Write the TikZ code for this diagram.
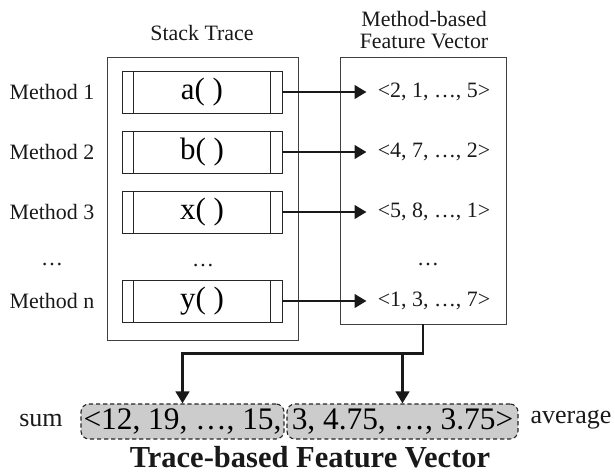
\documentclass[tikz,border=0pt]{standalone}
\usepackage{fontspec}
\setmainfont{Liberation Serif}
\usetikzlibrary{arrows.meta,calc}

\begin{document}
\begin{tikzpicture}[x=0.025cm, y=-0.025cm,
    methbox/.style={draw=black!85, line width=0.6pt, minimum width=113.8pt, minimum height=29.9pt, inner sep=0pt, font=\fontsize{22}{24}\selectfont},
    vecbox/.style={draw=black!85, line width=0.8pt, dash pattern=on 3pt off 2pt, rounded corners=5.7pt, fill=black!20, minimum height=24.9pt, inner sep=0pt, font=\fontsize{22.3}{24}\selectfont},
    arr/.style={line width=2.1pt, black!90, -{Triangle[length=8.5pt, width=9.5pt]}},
    small/.style={font=\fontsize{15.6}{18}\selectfont, text=black!90}]
    \useasboundingbox (0,0) rectangle (615,473);

    % stack trace and method-based vectors
    \node[small] (sttitle) at (202,33) {Stack Trace};
    \node[small, align=center] (fvtitle) at (424,30) {Method-based\\[-2pt]Feature Vector};
    \node[draw=black!75, line width=0.6pt, minimum width=135.9pt, minimum height=201.3pt, inner sep=0pt] (stack) at (202.5,198.5) {};
    \node[draw=black!75, line width=0.6pt, minimum width=118.1pt, minimum height=189.9pt, inner sep=0pt] (fvec) at (423,190.5) {};

    \foreach \i/\f/\y/\v in {1/a/92/{<2, 1, …, 5>}, 2/b/152/{<4, 7, …, 2>}, 3/x/212/{<5, 8, …, 1>}, n/y/301/{<1, 3, …, 7>}} {
        \node[small] (l\i) at (52,\y) {Method \i};
        \node[methbox] (m\i) at (202,\y) {\f( )};
        \draw[black!85, line width=0.6pt] ($(m\i.north west)+(12,0)$) -- ($(m\i.south west)+(12,0)$);
        \draw[black!85, line width=0.6pt] ($(m\i.north east)+(-12,0)$) -- ($(m\i.south east)+(-12,0)$);
        \node[small, inner sep=7.8pt] (v\i) at (434,\y) {\v};
        \draw[arr] (m\i.east) -- (v\i.west);
    }
    \node[small] (ldots) at (52,265) {…};
    \node[small] (mdots) at (203,266) {…};
    \node[small] (vdots) at (428,265) {…};

    % trace-based vector
    \node[vecbox, minimum width=144.4pt] (sum) at (182.5,421.5) {<12, 19, …, 15,};
    \node[vecbox, minimum width=164.3pt] (avg) at (402.5,421.5) {3, 4.75, …, 3.75>};
    \node[font=\fontsize{18.5}{20}\selectfont, text=black!90] (sumlbl) at (41,420) {sum};
    \node[font=\fontsize{18.5}{20}\selectfont, text=black!90] (avglbl) at (571,420) {average};
    \node[font=\fontsize{21.7}{24}\selectfont\bfseries, text=black!90] (title) at (310,457) {Trace-based Feature Vector};

    \coordinate (split) at ($(fvec.south)+(0,29)$);
    \draw[arr] (fvec.south) -- (split) -| (sum.north);
    \draw[arr] (avg.north |- split) -- (avg.north);
\end{tikzpicture}
\end{document}
